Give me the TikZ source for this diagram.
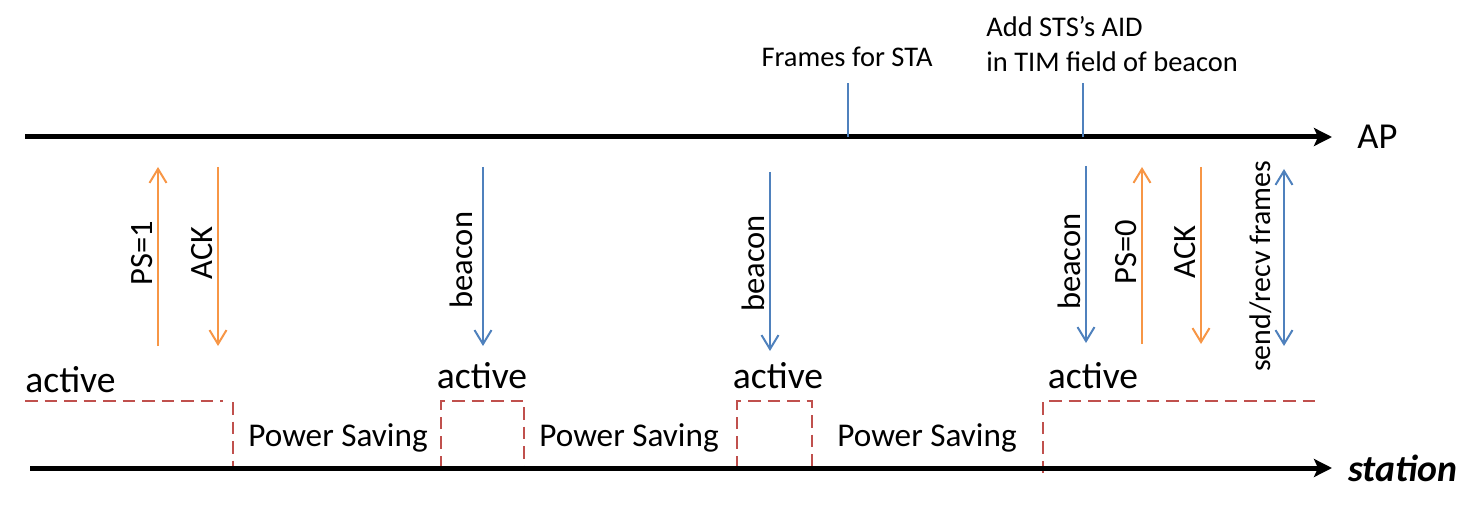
\documentclass[tikz,border=0pt]{standalone}
\usepackage{fontspec}
\setmainfont{Carlito}
\definecolor{msgblue}{RGB}{79,129,189}
\definecolor{msgorange}{RGB}{247,150,70}
\definecolor{statered}{RGB}{192,80,77}
\usetikzlibrary{arrows.meta, positioning}

\begin{document}
\begin{tikzpicture}[
  axis/.style={line width=0.1cm, -{Stealth[length=0.36cm, width=0.36cm, inset=0.08cm]}},
  msg/.style={draw=#1, line width=0.04cm, -{Straight Barb[length=0.28cm, width=0.34cm]}},
  lbl/.style={rotate=90, anchor=south, inner sep=0pt, outer sep=0.1cm, font=\fontsize{18.5}{21}\selectfont},
  note/.style={inner sep=0pt, font=\fontsize{16.2}{19.9}\selectfont},
  actlbl/.style={inner sep=0pt, font=\fontsize{21.4}{25}\selectfont},
  savlbl/.style={inner sep=0pt, anchor=base, font=\fontsize{18.9}{22}\selectfont},
  state/.style={statered, line width=0.04cm, dash pattern=on 0.25cm off 0.14cm},
  tick/.style={msgblue, line width=0.04cm},
]
  \useasboundingbox (0,0) rectangle (29.64,10.24);

  % station state (dashed)
  \draw[state] (0.5,2.22) -- (4.46,2.22);
  \draw[state] (4.66,2.2) -- (4.66,0.88);
  \draw[state] (8.82,0.88) |- (10.48,2.22) -- (10.48,0.88);
  \draw[state] (14.74,0.88) |- (16.24,2.22) -- (16.24,0.88);
  \draw[state] (20.86,0.78) |- (26.4,2.22);

  % time axes
  \coordinate (ap0) at (0.5,7.5);
  \coordinate (ap1) at (26.64,7.5);
  \coordinate (st0) at (0.6,0.88);
  \coordinate (st1) at (26.64,0.88);
  \draw[axis] (ap0) -- (ap1);
  \draw[axis] (st0) -- (st1);
  \node[inner sep=0pt, font=\fontsize{20.8}{24}\selectfont, right=0.5cm of ap1] (ap) {AP};
  \node[inner sep=0pt, font=\fontsize{21.5}{24}\selectfont\bfseries\itshape, right=0.32cm of st1] (sta) {station};

  % events at the AP
  \node[note, anchor=base] (frm) at (16.94,8.9) {Frames for STA};
  \node[note, anchor=north west, align=left] (tim) at (19.72,9.92) {Add STS’s AID\\in TIM field of beacon};
  \coordinate (frmtick) at (16.96,7.5);
  \coordinate (timtick) at (21.66,7.5);
  \draw[tick] (frmtick) -- ++(0,1.08);
  \draw[tick] (timtick) -- ++(0,1.08);

  % frames between station and AP
  \coordinate (ps1a) at (3.16,3.32);    \coordinate (ps1b) at (3.16,6.9);
  \coordinate (ack1a) at (4.36,6.9);    \coordinate (ack1b) at (4.36,3.32);
  \coordinate (bc1a) at (9.66,6.9);     \coordinate (bc1b) at (9.66,3.32);
  \coordinate (bc2a) at (15.4,6.8);     \coordinate (bc2b) at (15.4,3.22);
  \coordinate (bc3a) at (21.72,6.92);   \coordinate (bc3b) at (21.72,3.38);
  \coordinate (ps0a) at (22.84,3.36);   \coordinate (ps0b) at (22.84,6.9);
  \coordinate (ack2a) at (24.02,6.9);   \coordinate (ack2b) at (24.02,3.36);
  \coordinate (dataa) at (25.68,6.86);  \coordinate (datab) at (25.68,3.32);

  \draw[msg=msgorange] (ps1a) -- node[lbl, pos=0.52] (lps1) {PS=1} (ps1b);
  \draw[msg=msgorange] (ack1a) -- node[lbl, pos=0.48] (lack1) {ACK} (ack1b);
  \draw[msg=msgblue] (bc1a) -- node[lbl, pos=0.52, outer sep=0.2cm] (lbc1) {beacon} (bc1b);
  \draw[msg=msgblue] (bc2a) -- node[lbl, pos=0.51] (lbc2) {beacon} (bc2b);
  \draw[msg=msgblue] (bc3a) -- node[lbl, pos=0.54] (lbc3) {beacon} (bc3b);
  \draw[msg=msgorange] (ps0a) -- node[lbl, pos=0.52] (lps0) {PS=0} (ps0b);
  \draw[msg=msgorange] (ack2a) -- node[lbl, pos=0.48] (lack2) {ACK} (ack2b);
  \draw[msg=msgblue, {Straight Barb[length=0.28cm, width=0.34cm]}-{Straight Barb[length=0.28cm, width=0.34cm]}]
    (dataa) -- node[lbl, pos=0.55, outer sep=0.24cm, font=\fontsize{17}{20}\selectfont] (ldata) {send/recv frames} (datab);

  % station states
  \node[actlbl, anchor=base west] (act1) at (0.5,2.4) {active};
  \node[actlbl, anchor=base] (act2) at (9.64,2.48) {active};
  \node[actlbl, anchor=base] (act3) at (15.56,2.48) {active};
  \node[actlbl, anchor=base] (act4) at (21.86,2.48) {active};
  \node[savlbl] (sav1) at (6.76,1.32) {Power Saving};
  \node[savlbl] (sav2) at (12.58,1.32) {Power Saving};
  \node[savlbl] (sav3) at (18.54,1.32) {Power Saving};
\end{tikzpicture}
\end{document}
